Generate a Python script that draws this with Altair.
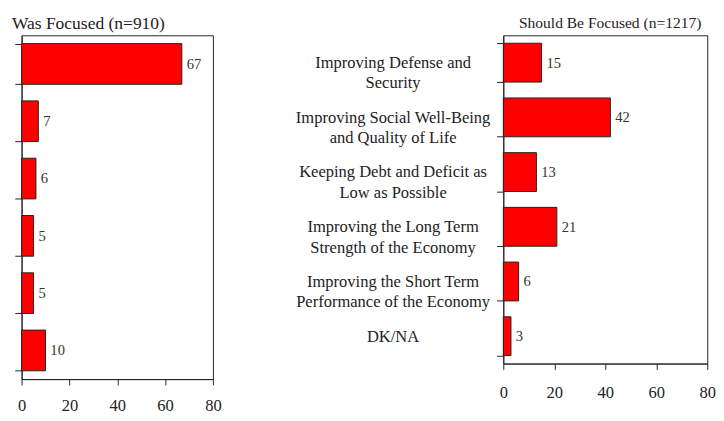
import altair as alt
import pandas as pd

categories = [
    "Improving Defense and|Security",
    "Improving Social Well-Being|and Quality of Life",
    "Keeping Debt and Deficit as|Low as Possible",
    "Improving the Long Term|Strength of the Economy",
    "Improving the Short Term|Performance of the Economy",
    "DK/NA",
]
was_values = [67, 7, 6, 5, 5, 10]
should_values = [15, 42, 13, 21, 6, 3]
x_ticks = [0, 20, 40, 60, 80]
titles = ["Was Focused (n=910)", "Should Be Focused (n=1217)"]

FONT = "Liberation Serif"


def panel(values, title, show_labels, width, height, tick_pad, tx, ty, talign, tsize):
    df = pd.DataFrame({"cat": categories, "value": values})
    y_axis = alt.Axis(
        title=None,
        labels=show_labels,
        tickBand="extent",
        tickSize=7,
        tickColor="#222",
        domainColor="#222",
        labelAlign="center",
        labelBaseline="middle",
        labelPadding=107,
        labelLimit=400,
        labelFont=FONT,
        labelFontSize=17,
        labelColor="#222",
        labelLineHeight=21,
        labelExpr="split(datum.label, '|')",
    )
    x_axis = alt.Axis(
        title=None,
        values=x_ticks,
        grid=False,
        tickSize=6,
        tickColor="#222",
        domainColor="#222",
        labelFont=FONT,
        labelFontSize=17,
        labelColor="#222",
        labelPadding=tick_pad,
        labelFlush=False,
    )
    x = alt.X("value:Q", scale=alt.Scale(domain=[0, 80], nice=False), axis=x_axis)
    y = alt.Y(
        "cat:N",
        sort=categories,
        scale=alt.Scale(paddingInner=0.29, paddingOuter=0.145),
        axis=y_axis,
    )
    base = alt.Chart(df)
    bars = base.mark_bar(color="#ff0000", stroke="#222", strokeWidth=1).encode(x=x, y=y)
    text = base.mark_text(
        align="left", baseline="middle", dx=5, font=FONT, fontSize=15, color="#333"
    ).encode(x=alt.X("value:Q"), y=alt.Y("cat:N", sort=categories), text="value:Q")
    ttl = alt.Chart(pd.DataFrame({"t": [title]})).mark_text(
        align=talign, baseline="alphabetic", font=FONT, fontSize=tsize, color="#222"
    ).encode(text="t:N", x=alt.value(tx), y=alt.value(ty))
    return (bars + text + ttl).properties(width=width, height=height)


left = panel(was_values, titles[0], False, 197, 354, 13, -10, -7, "left", 18)
right = panel(should_values, titles[1], True, 210, 338, 16, 110, -8, "center", 16)

chart = (
    alt.hconcat(left, right, spacing=75)
    .resolve_scale(x="independent", y="independent")
    .properties(padding={"left": 3, "top": 0, "right": 0, "bottom": 0})
    .configure_view(stroke="#222", strokeWidth=1)
)

chart.save("out.html", embed_options={"renderer": "svg", "actions": False})
